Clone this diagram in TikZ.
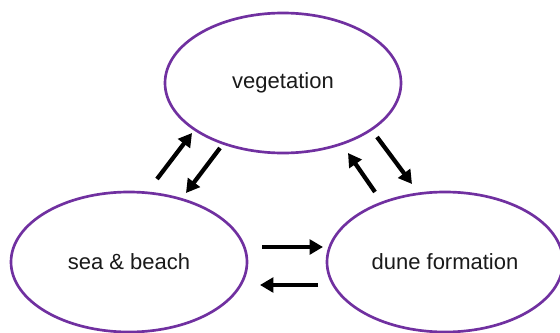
\documentclass[tikz,border=0pt]{standalone}
\usepackage{fontspec}
\setmainfont{Liberation Sans}
\usepackage{xcolor}
\usepackage{tikz}
\usetikzlibrary{arrows.meta,positioning,shapes.geometric}
\definecolor{ringpurple}{HTML}{7030A0}
\definecolor{ink}{HTML}{1A1A1A}
\tikzset{
    every picture/.style={line cap=round,line join=round},
    zonenode/.style={ellipse,draw=ringpurple,fill=white,line width=2pt,
      minimum width=177pt,minimum height=105pt,inner sep=0pt,
      font=\fontsize{16.5}{20}\selectfont,text=ink,align=center},
    flowarrow/.style={-{Triangle[length=10pt,width=11pt]},draw=black,
      line width=3.2pt,line cap=butt}
}

\begin{document}
\begin{tikzpicture}[x=0.75pt,y=-0.75pt]
  \useasboundingbox (0,0) rectangle (560,332);
  \node[zonenode] (veg) at (283,83) {vegetation};
  \node[zonenode] (sea) at (129,262) {sea \& beach};
  \node[zonenode,right=58pt of sea] (dune) {dune formation};

  \coordinate (seaup) at (157,179);   \coordinate (vegdl) at (192,133);
  \coordinate (vegdn) at (220,148);   \coordinate (seatop) at (186,193);
  \coordinate (duneup) at (375,192);  \coordinate (vegdr) at (348,153);
  \coordinate (vegrt) at (377,137);   \coordinate (dunetop) at (412,184);
  \coordinate (seart) at (262,247);   \coordinate (duneleft) at (323,247);
  \coordinate (dunelo) at (318,285);  \coordinate (sealo) at (260,285);

  \draw[flowarrow] (seaup)--(vegdl);
  \draw[flowarrow] (vegdn)--(seatop);
  \draw[flowarrow] (duneup)--(vegdr);
  \draw[flowarrow] (vegrt)--(dunetop);
  \draw[flowarrow] (seart)--(duneleft);
  \draw[flowarrow] (dunelo)--(sealo);
\end{tikzpicture}
\end{document}
